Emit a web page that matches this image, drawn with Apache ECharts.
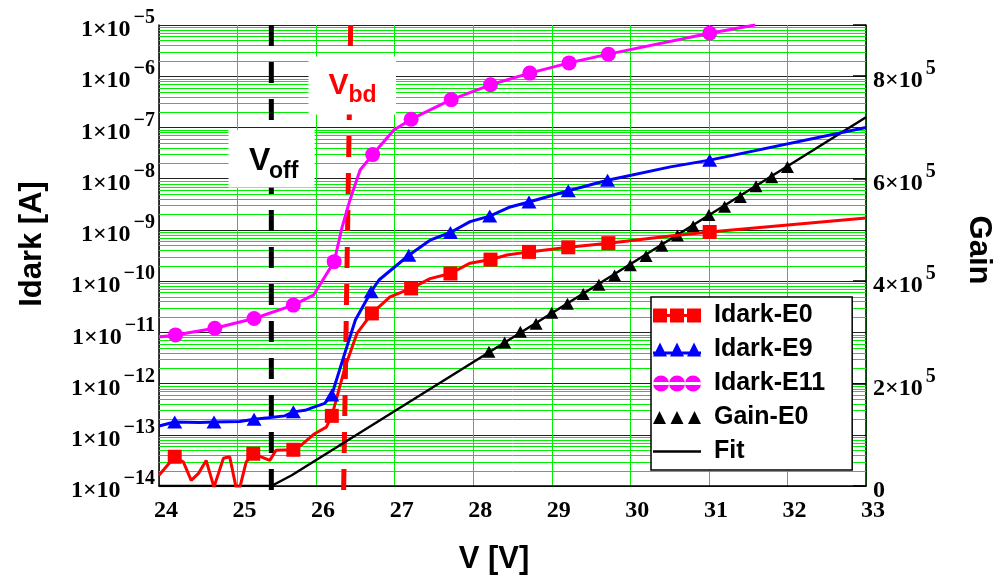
<!DOCTYPE html>
<html>
<head>
<meta charset="utf-8">
<script src="https://cdn.jsdelivr.net/npm/echarts@6/dist/echarts.min.js"></script>
<style>
  html, body { margin: 0; padding: 0; background: #fff; }
  #chart { width: 999px; height: 577px; }
</style>
</head>
<body>
<div id="chart"></div>
<script>
// ---- Dark current vs. bias voltage (left, log axis) ----
// E0 sample
const e0Volt = [24.0, 24.2, 24.31, 24.41, 24.5, 24.6, 24.7, 24.82, 24.9, 24.98, 25.03, 25.11, 25.2,
  25.41, 25.49, 25.71, 25.81, 25.98, 26.13, 26.2, 26.26, 26.37, 26.52, 26.71, 26.94, 27.21, 27.45,
  27.71, 27.96, 28.22, 28.43, 28.71, 29.21, 29.72, 30.51, 31.01, 33.0];
const e0Curr = [1.62e-14, 3.72e-14, 2.95e-14, 1.29e-14, 1.74e-14, 3.16e-14, 9.5e-15, 3.47e-14, 3.72e-14,
  9.5e-15, 9.5e-15, 2.95e-14, 4.27e-14, 3.16e-14, 5.0e-14, 5.1e-14, 6.3e-14, 1.05e-13, 1.41e-13,
  2.34e-13, 5.1e-13, 2.14e-12, 9.5e-12, 2.34e-11, 4.9e-11, 7.2e-11, 1.12e-10, 1.41e-10, 2.24e-10,
  2.63e-10, 3.24e-10, 3.72e-10, 4.57e-10, 5.5e-10, 7.6e-10, 9.1e-10, 1.7e-9];
const e0Mark = [0, 1, 0, 0, 0, 0, 0, 0, 0, 0, 0, 0, 1, 0, 0, 1, 0, 0, 0, 1, 0, 0, 0, 1, 0, 1, 0,
  1, 0, 1, 0, 1, 1, 1, 0, 1, 0];

// E9 sample
const e9Volt = [24.0, 24.2, 24.52, 24.7, 25.03, 25.21, 25.39, 25.6, 25.71, 25.86, 25.98, 26.11, 26.2,
  26.35, 26.5, 26.7, 26.8, 27.18, 27.45, 27.71, 27.96, 28.21, 28.47, 28.71, 29.21, 29.71, 30.51,
  31.01, 33.0];
const e9Curr = [1.48e-13, 1.78e-13, 1.74e-13, 1.78e-13, 1.82e-13, 2.0e-13, 2.14e-13, 2.34e-13, 2.8e-13,
  3.0e-13, 3.5e-13, 4.1e-13, 6.0e-13, 3.3e-12, 1.74e-11, 6.2e-11, 1.05e-10, 3.2e-10, 6.3e-10,
  8.9e-10, 1.45e-9, 1.86e-9, 2.8e-9, 3.5e-9, 5.8e-9, 9.3e-9, 1.7e-8, 2.3e-8, 1.0e-7];
const e9Mark = [0, 1, 0, 1, 0, 1, 0, 0, 1, 0, 0, 0, 1, 0, 0, 1, 0, 1, 0, 1, 0, 1, 0, 1, 1, 1, 0, 1, 0];

// E11 sample
const e11Volt = [24.0, 24.21, 24.71, 25.21, 25.71, 25.97, 26.23, 26.33, 26.43, 26.56, 26.72, 26.99,
  27.21, 27.72, 28.22, 28.72, 29.22, 29.72, 31.01, 31.59];
const e11Curr = [8.1e-12, 8.9e-12, 1.2e-11, 1.86e-11, 3.4e-11, 5.4e-11, 2.4e-10, 1.12e-9, 3.8e-9,
  1.48e-8, 2.95e-8, 8.9e-8, 1.45e-7, 3.5e-7, 6.8e-7, 1.15e-6, 1.82e-6, 2.7e-6, 6.9e-6, 1.0e-5];
const e11Mark = [0, 1, 1, 1, 1, 0, 1, 0, 0, 0, 1, 0, 1, 1, 1, 1, 1, 1, 1, 0];

// ---- Gain (right, linear axis) ----
const gainVolt = [28.2, 28.4, 28.6, 28.8, 29.0, 29.2, 29.4, 29.6, 29.8, 30.0, 30.2, 30.4, 30.6, 30.8,
  31.0, 31.2, 31.4, 31.6, 31.8, 32.0];
const gainVal = [2.62e5, 2.80e5, 3.01e5, 3.17e5, 3.38e5, 3.56e5, 3.75e5, 3.93e5, 4.11e5, 4.31e5,
  4.49e5, 4.69e5, 4.89e5, 5.07e5, 5.29e5, 5.45e5, 5.64e5, 5.85e5, 6.03e5, 6.23e5];
const fitVolt = [24.0, 25.43, 25.69, 33.0];
const fitGain = [0, 0, 2.1e4, 7.2e5];

// ---- Reference voltages (dashed markers) ----
const voffVolt = [25.43, 25.43];
const vbdVolt = [26.44, 26.35];
const refLineCurr = [1e-5, 7.6e-15];

// ---- Axes ----
const xRange = [24, 33];
const idarkRange = [1e-14, 1e-5];
const gainRange = [0, 9e5];
const gainStep = 2e5;

const SANS = '"Liberation Sans", Arial, Helvetica, sans-serif';
const SERIF = '"Liberation Serif", "Times New Roman", serif';
const GREEN = '#00ee00';

// minor decade lines (2..9 × 10^n) of the log axis
const minorLines = [];
for (let n = -14; n < -5; n++) {
  for (let k = 2; k <= 9; k++) minorLines.push(k * Math.pow(10, n));
}

function trace(volt, curr, mark, symbol) {
  return volt.map((v, i) => ({ value: [v, curr[i]], symbol: mark[i] ? symbol : 'none' }));
}
function pairs(xs, ys) { return xs.map((x, i) => [x, ys[i]]); }

// "1×10" base with a raised exponent
const tickRich = {
  b: { fontFamily: SERIF, fontWeight: 'bold', fontSize: 24, color: '#000',
       lineHeight: 34, verticalAlign: 'bottom' },
  s: { fontFamily: SERIF, fontWeight: 'bold', fontSize: 20, color: '#000',
       lineHeight: 20, verticalAlign: 'top', padding: [0, 0, 0, 3] }
};

const iconSquares = 'path://M0,0h14v14h-14z M17,0h14v14h-14z M34,0h14v14h-14z M0,5.5h48v3h-48z';
const iconTriangles = 'path://M0,14L7,0L14,14z M17,14L24,0L31,14z M34,14L41,0L48,14z M0,9h48v3h-48z';
const iconCircles = 'path://M0,8a8,8 0 1,0 16,0a8,8 0 1,0 -16,0z M16,8a8,8 0 1,0 16,0a8,8 0 1,0 -16,0z M32,8a8,8 0 1,0 16,0a8,8 0 1,0 -16,0z M0,6.5h48v3h-48z';
const iconBlackTri = 'path://M0,13L6.5,0L13,13z M17.5,13L24,0L30.5,13z M35,13L41.5,0L48,13z';
const iconLine = 'path://M0,0h48v2.5h-48z';

const chart = echarts.init(document.getElementById('chart'), null, { renderer: 'canvas' });

chart.setOption({
  animation: false,
  backgroundColor: '#fff',
  grid: { left: 159, right: 133, top: 25, bottom: 91, containLabel: false, outerBoundsMode: 'none' },
  xAxis: {
    type: 'value', min: xRange[0], max: xRange[1], interval: 1,
    axisLine: { show: true, onZero: false, lineStyle: { color: '#000', width: 1.5 } },
    axisTick: { show: false },
    axisLabel: { fontFamily: SERIF, fontWeight: 'bold', fontSize: 24, color: '#000',
                 margin: 13, padding: [0, 0, 0, 14] },
    splitLine: { show: true, lineStyle: { color: GREEN, width: 1 } }
  },
  yAxis: [
    {
      type: 'log', logBase: 10, min: idarkRange[0], max: idarkRange[1], splitNumber: 9,
      axisLine: { show: true, onZero: false, lineStyle: { color: '#000', width: 1.5 } },
      axisTick: { show: false },
      axisLabel: {
        margin: 4, rich: tickRich,
        formatter: v => '{b|1×10}{s|−' + (-Math.round(Math.log10(v))) + '}'
      },
      splitLine: { show: true, lineStyle: { color: '#222', width: 1.2 } }
    },
    {
      type: 'value', position: 'right', min: gainRange[0], max: gainRange[1], interval: gainStep,
      axisLine: { show: true, onZero: false, lineStyle: { color: '#000', width: 1.5 } },
      axisTick: { show: true, inside: true, length: 13, lineStyle: { color: '#000', width: 1.5 } },
      axisLabel: {
        margin: 7, rich: tickRich,
        formatter: v => {
          if (v === 0) return '{b|0}';
          if (v > gainRange[1] - gainStep / 2) return '';
          return '{b|' + Math.round(v / 1e5) + '×10}{s|5}';
        }
      },
      splitLine: { show: false }
    }
  ],
  legend: {
    orient: 'vertical', left: 651, top: 297,
    itemWidth: 48, itemHeight: 16, itemGap: 9,
    selectedMode: false,
    backgroundColor: '#fff', borderColor: '#000', borderWidth: 1.5, borderRadius: 0,
    padding: [6, 27, 6, 2],
    itemStyle: { borderWidth: 0, opacity: 1 },
    textStyle: { fontFamily: SANS, fontWeight: 'bold', fontSize: 25, color: '#000', padding: [0, 0, 0, 8] },
    data: [
      { name: 'Idark-E0', icon: iconSquares },
      { name: 'Idark-E9', icon: iconTriangles },
      { name: 'Idark-E11', icon: iconCircles },
      { name: 'Gain-E0', icon: iconBlackTri },
      { name: 'Fit', icon: iconLine }
    ],
    z: 20
  },
  series: [
    {
      // green minor grid of the logarithmic current axis
      name: 'minorGrid', type: 'custom', yAxisIndex: 0, silent: true, z: 1,
      data: minorLines.map(v => [xRange[0], v]),
      renderItem: (params, api) => {
        const a = api.coord([xRange[0], api.value(1)]);
        const b = api.coord([xRange[1], api.value(1)]);
        const y = Math.round(a[1]) + 0.5;
        return { type: 'line', shape: { x1: a[0], y1: y, x2: b[0], y2: y },
                 style: { stroke: GREEN, lineWidth: 1 } };
      }
    },
    {
      name: 'Voff', type: 'line', yAxisIndex: 0, data: pairs(voffVolt, refLineCurr),
      showSymbol: false, clip: false, silent: true, z: 2,
      lineStyle: { color: '#000', width: 5, type: [21, 16] }
    },
    {
      name: 'Vbd', type: 'line', yAxisIndex: 0, data: pairs(vbdVolt, refLineCurr),
      showSymbol: false, clip: false, silent: true, z: 2,
      lineStyle: { color: '#ff0000', width: 5, type: [21, 16] }
    },
    {
      name: 'Fit', type: 'line', yAxisIndex: 1, data: pairs(fitVolt, fitGain),
      showSymbol: false, z: 3, color: '#000',
      lineStyle: { color: '#000', width: 2.5 }
    },
    {
      name: 'Gain-E0', type: 'scatter', yAxisIndex: 1, data: pairs(gainVolt, gainVal),
      symbol: 'triangle', symbolSize: [13, 12], z: 4, color: '#000',
      itemStyle: { color: '#000', borderWidth: 0, opacity: 1 }
    },
    {
      name: 'Idark-E0', type: 'line', yAxisIndex: 0, data: trace(e0Volt, e0Curr, e0Mark, 'rect'),
      symbolSize: 14, z: 5, color: '#ff0000',
      lineStyle: { color: '#ff0000', width: 3 }, itemStyle: { color: '#ff0000', borderWidth: 0 }
    },
    {
      name: 'Idark-E9', type: 'line', yAxisIndex: 0, data: trace(e9Volt, e9Curr, e9Mark, 'triangle'),
      symbolSize: [15, 13], z: 5, color: '#0000ff',
      lineStyle: { color: '#0000ff', width: 3 }, itemStyle: { color: '#0000ff', borderWidth: 0 }
    },
    {
      name: 'Idark-E11', type: 'line', yAxisIndex: 0, data: trace(e11Volt, e11Curr, e11Mark, 'circle'),
      symbolSize: 15, z: 5, color: '#ff00ff',
      lineStyle: { color: '#ff00ff', width: 3 }, itemStyle: { color: '#ff00ff', borderWidth: 0 }
    }
  ],
  graphic: [
    { type: 'rect', z: 100, shape: { x: 228.5, y: 130, width: 86, height: 57.5 }, style: { fill: '#fff' } },
    { type: 'rect', z: 100, shape: { x: 308.5, y: 56.5, width: 87.5, height: 58 }, style: { fill: '#fff' } },
    { type: 'text', z: 101, x: 249, y: 161,
      style: { text: 'V', font: 'bold 32px ' + SANS, fill: '#000', align: 'left', verticalAlign: 'middle' } },
    { type: 'text', z: 101, x: 269, y: 171.5,
      style: { text: 'off', font: 'bold 23px ' + SANS, fill: '#000', align: 'left', verticalAlign: 'middle' } },
    { type: 'text', z: 101, x: 328.5, y: 86,
      style: { text: 'V', font: 'bold 30px ' + SANS, fill: '#ff0000', align: 'left', verticalAlign: 'middle' } },
    { type: 'text', z: 101, x: 348.5, y: 96,
      style: { text: 'bd', font: 'bold 23px ' + SANS, fill: '#ff0000', align: 'left', verticalAlign: 'middle' } },
    { type: 'text', z: 101, x: 494, y: 559,
      style: { text: 'V [V]', font: 'bold 31px ' + SANS, fill: '#000', align: 'center', verticalAlign: 'middle' } },
    { type: 'text', z: 101, x: 32, y: 244, rotation: Math.PI / 2,
      style: { text: 'Idark [A]', font: 'bold 31px ' + SANS, fill: '#000', align: 'center', verticalAlign: 'middle' } },
    { type: 'text', z: 101, x: 979, y: 250, rotation: -Math.PI / 2,
      style: { text: 'Gain', font: 'bold 31px ' + SANS, fill: '#000', align: 'center', verticalAlign: 'middle' } }
  ]
});
</script>
</body>
</html>
